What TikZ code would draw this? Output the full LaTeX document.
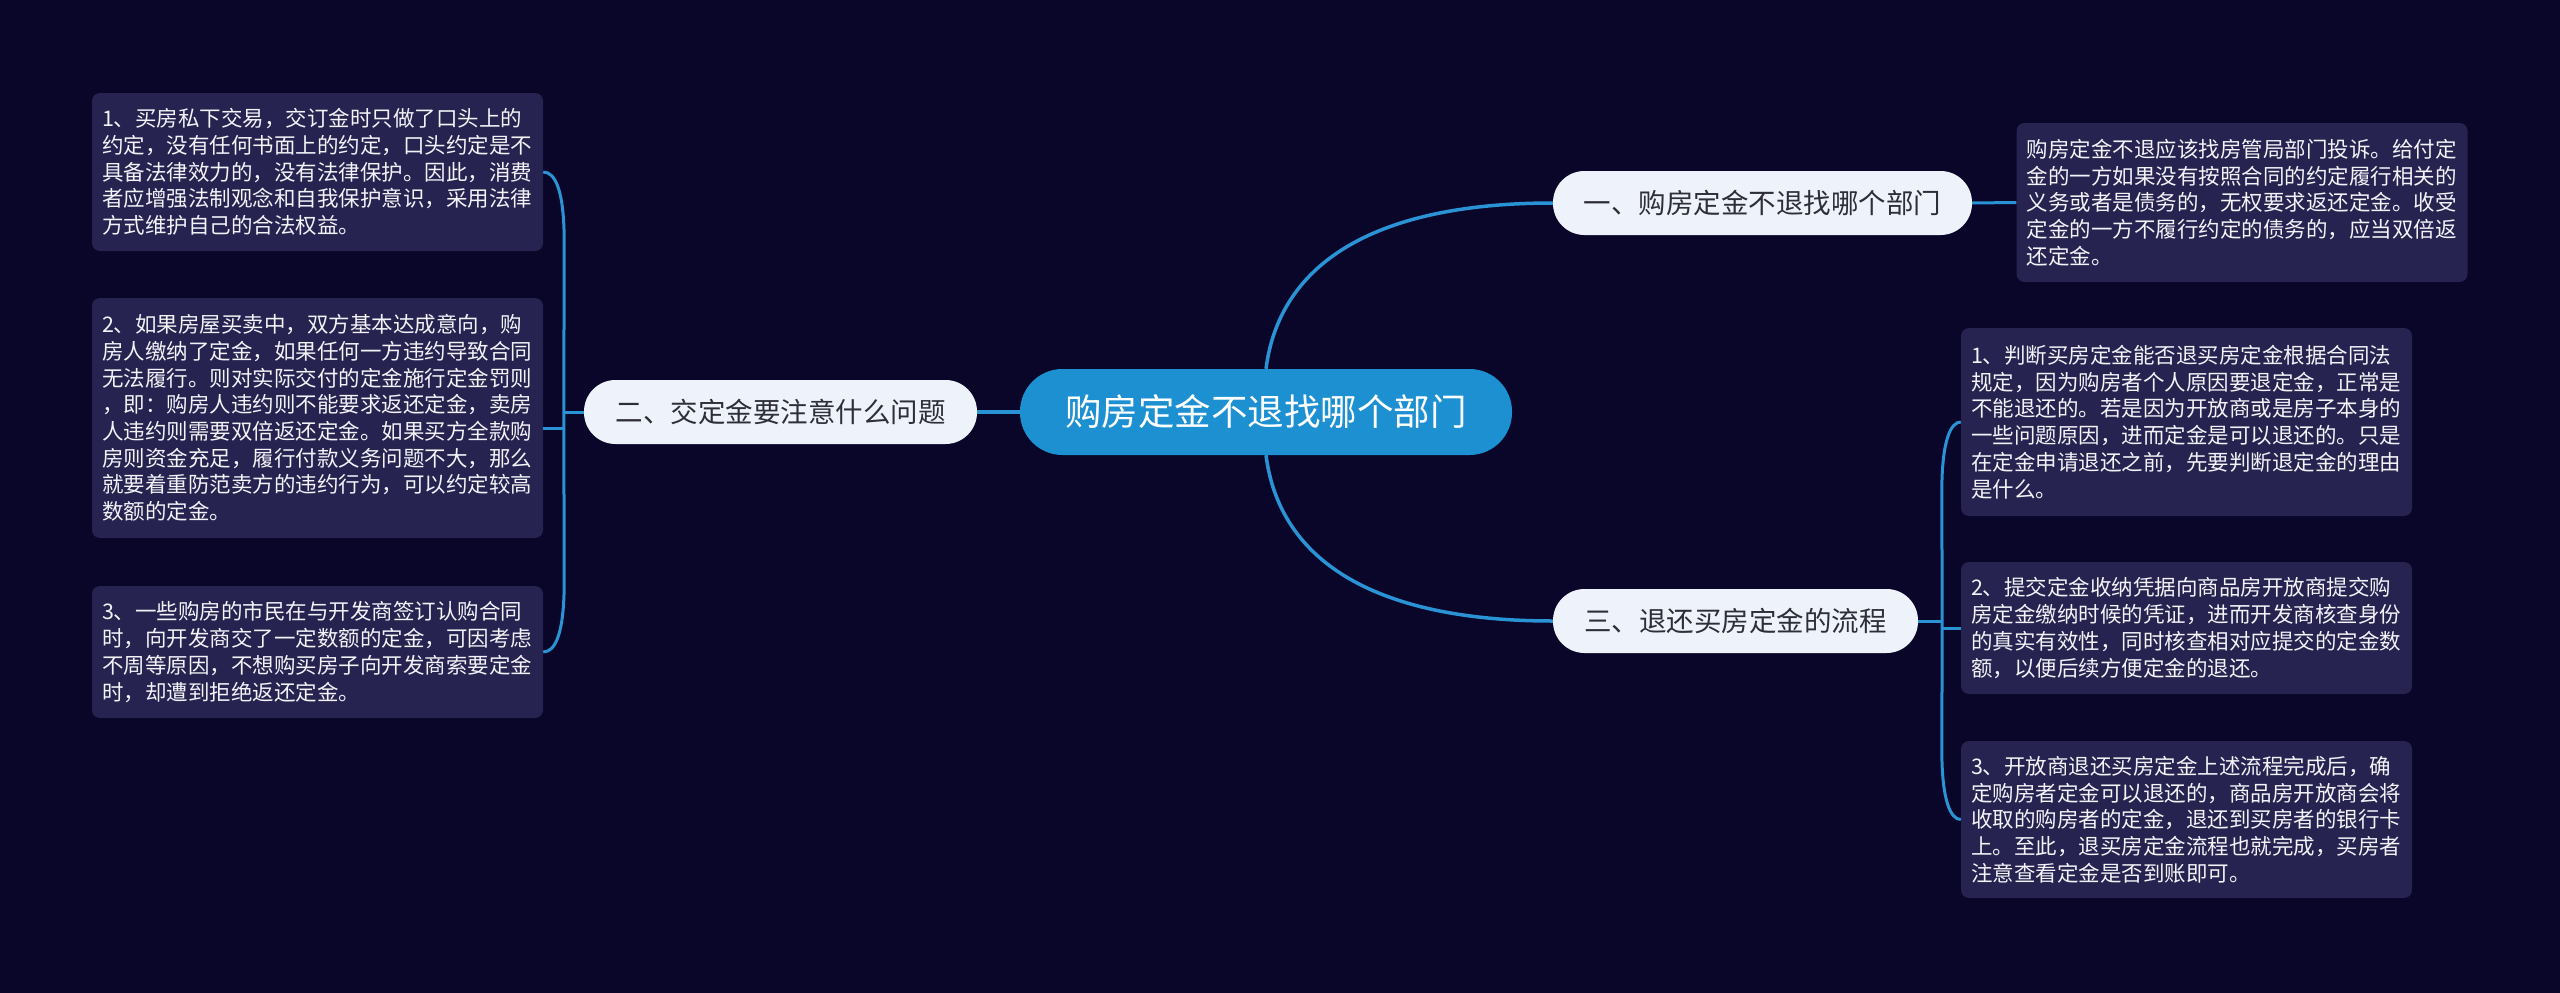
\documentclass[tikz,border=0pt]{standalone}
\usepackage{fontspec}
\setmainfont{Noto Sans CJK SC}
\usetikzlibrary{calc}
\definecolor{bg}{HTML}{0A0629}
\definecolor{leafc}{HTML}{262350}
\definecolor{leaftext}{HTML}{F2F2F7}
\definecolor{branchc}{HTML}{EEF3FB}
\definecolor{branchtext}{HTML}{2E2E38}
\definecolor{rootc}{HTML}{1D90D2}
\definecolor{linec}{HTML}{2A93D5}
\begin{document}
\begin{tikzpicture}[x=1pt,y=-1pt,
  leaf/.style={fill=leafc, rounded corners=8pt, text=leaftext, align=left,
    text width=431pt, inner xsep=10pt, inner ysep=4pt,
    font=\fontsize{21.5pt}{26.7pt}\selectfont},
  branch/.style={fill=branchc, rounded corners=31.5pt, text=branchtext,
    minimum height=64pt, inner sep=0pt, font=\fontsize{27.5pt}{32pt}\selectfont},
  rootnode/.style={fill=rootc, rounded corners=42.5pt, text=white,
    minimum height=86pt, minimum width=492pt, inner sep=0pt,
    font=\fontsize{36.5pt}{40pt}\selectfont},
  link/.style={draw=linec, line width=3pt},
  mainlink/.style={draw=linec, line width=3.5pt},
]
\fill[bg] (0,0) rectangle (2560,993);
\useasboundingbox (0,0) rectangle (2560,993);

% root and branches
\node[rootnode] (C) at (1266,412) {购房定金不退找哪个部门};
\node[branch, minimum width=419pt] (B1) at (1762.5,203) {一、购房定金不退找哪个部门};
\node[branch, minimum width=393pt] (B2) at (780.5,412) {二、交定金要注意什么问题};
\node[branch, minimum width=365pt] (B3) at (1735.5,621) {三、退还买房定金的流程};

% leaves
\node[leaf, minimum height=158pt] (L1) at (317.5,172) {1、买房私下交易，交订金时只做了口头上的\\约定，没有任何书面上的约定，口头约定是不\\具备法律效力的，没有法律保护。因此，消费\\者应增强法制观念和自我保护意识，采用法律\\方式维护自己的合法权益。};
\node[leaf, minimum height=240pt] (L2) at (317.5,418) {2、如果房屋买卖中，双方基本达成意向，购\\房人缴纳了定金，如果任何一方违约导致合同\\无法履行。则对实际交付的定金施行定金罚则\\，即：购房人违约则不能要求返还定金，卖房\\人违约则需要双倍返还定金。如果买方全款购\\房则资金充足，履行付款义务问题不大，那么\\就要着重防范卖方的违约行为，可以约定较高\\数额的定金。};
\node[leaf, minimum height=132pt] (L3) at (317.5,652) {3、一些购房的市民在与开发商签订认购合同\\时，向开发商交了一定数额的定金，可因考虑\\不周等原因，不想购买房子向开发商索要定金\\时，却遭到拒绝返还定金。};

\node[leaf, minimum height=159pt] (R1) at (2242,202.5) {购房定金不退应该找房管局部门投诉。给付定\\金的一方如果没有按照合同的约定履行相关的\\义务或者是债务的，无权要求返还定金。收受\\定金的一方不履行约定的债务的，应当双倍返\\还定金。};
\node[leaf, minimum height=188pt] (R2) at (2186.5,422) {1、判断买房定金能否退买房定金根据合同法\\规定，因为购房者个人原因要退定金，正常是\\不能退还的。若是因为开放商或是房子本身的\\一些问题原因，进而定金是可以退还的。只是\\在定金申请退还之前，先要判断退定金的理由\\是什么。};
\node[leaf, minimum height=132pt] (R3) at (2186.5,628) {2、提交定金收纳凭据向商品房开放商提交购\\房定金缴纳时候的凭证，进而开发商核查身份\\的真实有效性，同时核查相对应提交的定金数\\额，以便后续方便定金的退还。};
\node[leaf, minimum height=157pt] (R4) at (2186.5,819.5) {3、开放商退还买房定金上述流程完成后，确\\定购房者定金可以退还的，商品房开放商会将\\收取的购房者的定金，退还到买房者的银行卡\\上。至此，退买房定金流程也就完成，买房者\\注意查看定金是否到账即可。};

% junction points
\coordinate (JL) at ($(B2.west)+(-20,0)$);
\coordinate (JR) at ($(B3.east)+(24,0)$);

% root connectors
\draw[mainlink] (C.north) .. controls ($(C.north)+(14,-109)$) and ($(B1.west)+(-173,0)$) .. (B1.west);
\draw[mainlink] (C.south) .. controls ($(C.south)+(14,109)$) and ($(B3.west)+(-173,0)$) .. (B3.west);
\draw[mainlink] (C.west) -- (B2.east);
\draw[link] (B1.east) -- (R1.west);

% left bracket
\draw[link] (B2.west) -- (JL);
\draw[link] (JL) -- ($(L1.east)+(21,70)$) .. controls ($(L1.east)+(21,18)$) and ($(L1.east)+(12,0)$) .. (L1.east);
\draw[link] (JL) -- ($(L3.east)+(21,-70)$) .. controls ($(L3.east)+(21,-18)$) and ($(L3.east)+(12,0)$) .. (L3.east);
\draw[link] ($(JL)+(0,16)$) -- ($(L2.east)+(0,10)$);

% right bracket
\draw[link] (B3.east) -- (JR);
\draw[link] (JR) -- ($(R2.west)+(-19,70)$) .. controls ($(R2.west)+(-19,18)$) and ($(R2.west)+(-10,0)$) .. (R2.west);
\draw[link] (JR) -- ($(R4.west)+(-19,-70)$) .. controls ($(R4.west)+(-19,-18)$) and ($(R4.west)+(-10,0)$) .. (R4.west);
\draw[link] ($(JR)+(0,7)$) -- (R3.west);
\end{tikzpicture}
\end{document}
